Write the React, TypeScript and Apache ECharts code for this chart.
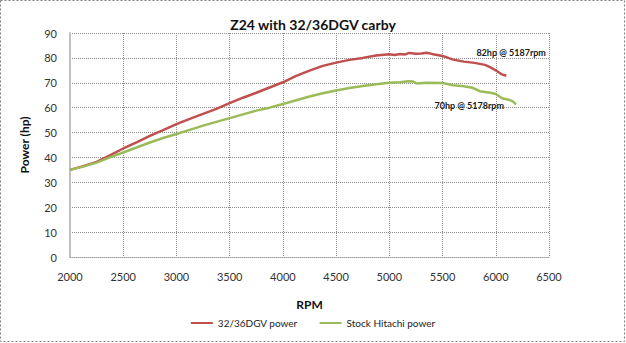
import React, { useEffect, useRef } from "react";
import * as echarts from "echarts";

const titleText = "Z24 with 32/36DGV carby";
const xName = "RPM";
const yName = "Power (hp)";
const seriesNames = ["32/36DGV power", "Stock Hitachi power"];

const dgvRpm = [2000, 2125, 2250, 2375, 2500, 2625, 2750, 2875, 3000, 3125, 3250, 3375, 3500, 3625, 3750, 3875, 4000, 4125, 4250, 4375, 4500, 4625, 4750, 4875, 5000, 5050, 5100, 5150, 5187, 5250, 5300, 5350, 5400, 5500, 5600, 5700, 5800, 5900, 5950, 6000, 6050, 6100];
const dgvHp = [35.0, 36.5, 38.2, 40.8, 43.6, 46.1, 48.7, 51.0, 53.4, 55.5, 57.5, 59.5, 61.8, 64.0, 66.0, 68.1, 70.2, 72.8, 74.9, 76.8, 78.1, 79.2, 80.0, 81.0, 81.5, 81.2, 81.6, 81.4, 82.0, 81.7, 81.8, 82.1, 81.6, 80.8, 79.3, 78.5, 78.0, 77.2, 76.2, 75.0, 73.5, 72.8];

const stockRpm = [2000, 2125, 2250, 2375, 2500, 2625, 2750, 2875, 3000, 3125, 3250, 3375, 3500, 3625, 3750, 3875, 4000, 4125, 4250, 4375, 4500, 4625, 4750, 4875, 5000, 5100, 5178, 5225, 5256, 5350, 5500, 5600, 5700, 5780, 5850, 5950, 6000, 6060, 6120, 6160, 6190];
const stockHp = [35.0, 36.3, 37.9, 40.0, 42.0, 44.0, 46.0, 47.8, 49.4, 51.1, 52.8, 54.3, 55.8, 57.3, 58.8, 60.0, 61.5, 63.0, 64.5, 65.8, 66.9, 67.9, 68.7, 69.4, 70.0, 70.2, 70.6, 70.5, 69.7, 70.0, 69.9, 69.0, 68.6, 68.0, 66.6, 66.0, 65.5, 63.8, 63.2, 62.5, 61.3];

const annotations = [
  { text: "82hp @ 5187rpm", coord: [5818, 82.3] },
  { text: "70hp @ 5178rpm", coord: [5424, 60.9] },
];

const FONT = "Lato";

export default function App() {
  const ref = useRef<HTMLDivElement>(null);
  useEffect(() => {
    document.body.style.margin = "0";
    if (!ref.current) return;
    const chart = echarts.init(ref.current, null, { renderer: "svg" });
    const mkLabel = (a: { text: string; coord: number[] }) => ({
      coord: a.coord,
      symbol: "circle",
      symbolSize: 0,
      label: {
        show: true,
        position: "right",
        distance: 0,
        formatter: a.text,
        color: "#1a1a1a",
        fontFamily: FONT,
        fontWeight: "bold",
        fontSize: 9,
      },
    });
    chart.setOption({
      animation: false,
      backgroundColor: "#ffffff",
      textStyle: { fontFamily: FONT },
      title: {
        text: titleText,
        left: "center",
        top: 12,
        textStyle: { fontFamily: FONT, fontWeight: "bold", fontSize: 14, color: "#111" },
      },
      grid: { left: 70, right: 77, top: 33, bottom: 86 },
      legend: {
        bottom: 10,
        left: "center",
        itemWidth: 22,
        itemHeight: 2,
        itemGap: 22,
        icon: "rect",
        textStyle: { fontFamily: FONT, fontSize: 10, color: "#222" },
        data: seriesNames,
      },
      xAxis: {
        type: "value",
        min: 2000,
        max: 6500,
        interval: 500,
        name: xName,
        nameLocation: "middle",
        nameGap: 41,
        nameTextStyle: { fontFamily: FONT, fontWeight: "bold", fontSize: 12, color: "#111" },
        axisLine: { show: true, lineStyle: { color: "#a0a0a0", width: 1, type: "dotted" } },
        axisTick: { show: false },
        axisLabel: { margin: 14, fontSize: 11, color: "#333", fontFamily: FONT, formatter: (v: number) => String(v) },
        splitLine: { show: true, lineStyle: { color: "#8c8c8c", type: "dotted", width: 1 } },
      },
      yAxis: {
        type: "value",
        min: 0,
        max: 90,
        interval: 10,
        name: yName,
        nameLocation: "middle",
        nameGap: 40,
        nameTextStyle: { fontFamily: FONT, fontWeight: "bold", fontSize: 12, color: "#111" },
        axisLine: { show: true, lineStyle: { color: "#c0c0c0", width: 2 } },
        axisTick: { show: false },
        axisLabel: { margin: 13, fontSize: 11, color: "#333", fontFamily: FONT },
        splitLine: { show: true, lineStyle: { color: "#8c8c8c", type: "dotted", width: 1 } },
      },
      series: [
        {
          name: seriesNames[0],
          type: "line",
          data: dgvRpm.map((r, i) => [r, dgvHp[i]]),
          showSymbol: false,
          symbol: "none",
          lineStyle: { color: "#c0504d", width: 2.5 },
          itemStyle: { color: "#c0504d" },
          z: 3,
          markPoint: { silent: true, data: [mkLabel(annotations[0])] },
        },
        {
          name: seriesNames[1],
          type: "line",
          data: stockRpm.map((r, i) => [r, stockHp[i]]),
          showSymbol: false,
          symbol: "none",
          lineStyle: { color: "#9bbb59", width: 2.5 },
          itemStyle: { color: "#9bbb59" },
          z: 4,
          markPoint: { silent: true, data: [mkLabel(annotations[1])] },
        },
      ],
      graphic: [
        {
          type: "rect",
          shape: { x: 0.5, y: 0.5, width: 624, height: 341 },
          style: { fill: "none", stroke: "#808080", lineWidth: 1, lineDash: [2, 2] },
          silent: true,
        },
      ],
    });
    return () => chart.dispose();
  }, []);
  return <div ref={ref} style={{ width: 626, height: 343 }} />;
}
